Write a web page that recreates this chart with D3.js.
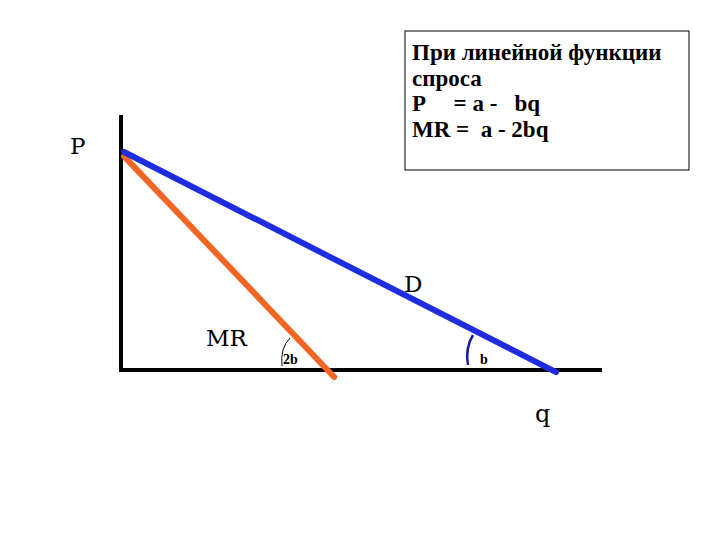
<!DOCTYPE html>
<html><head><meta charset="utf-8">
<script src="https://cdn.jsdelivr.net/npm/d3@7"></script>
<style>body{margin:0;background:#fff}</style>
</head><body>
<script>
// data in (q, P) units
const demandQ = [0.07, 10];
const demandP = [10, -0.1];
const mrQ = [0.07, 4.9];
const mrP = [9.8, -0.32];
const boxLines = ["При линейной функции", "спроса", "P     = a -   bq", "MR =  a - 2bq"];

const width = 720, height = 540;
const x = d3.scaleLinear().domain([0, 10]).range([121, 556]);
const y = d3.scaleLinear().domain([0, 10]).range([370, 152]);

const svg = d3.select("body").append("svg").attr("width", width).attr("height", height);
const line = d3.line().x(d => x(d[0])).y(d => y(d[1]));

// axes
svg.append("line").attr("x1", x(0)).attr("x2", x(0)).attr("y1", 115).attr("y2", y(0) + 2)
  .attr("stroke", "#000").attr("stroke-width", 4);
svg.append("line").attr("x1", x(0)).attr("x2", 602).attr("y1", y(0)).attr("y2", y(0))
  .attr("stroke", "#000").attr("stroke-width", 4);

// MR and D
svg.append("path").attr("d", line(d3.zip(mrQ, mrP))).attr("stroke", "#f26522")
  .attr("stroke-width", 6).attr("stroke-linecap", "round").attr("fill", "none");
svg.append("path").attr("d", line(d3.zip(demandQ, demandP))).attr("stroke", "#1f2de0")
  .attr("stroke-width", 6).attr("stroke-linecap", "round").attr("fill", "none");

// angle arcs
svg.append("path").attr("d", "M290,338 Q280,348 282,366").attr("stroke", "#000")
  .attr("stroke-width", 1).attr("fill", "none");
svg.append("path").attr("d", "M473,335 Q465,348 468,365").attr("stroke", "#1a1aa0")
  .attr("stroke-width", 2.5).attr("fill", "none");

const serif = "'Liberation Serif','DejaVu Serif',serif";
const wide = "'DejaVu Serif',serif";
const lbl = (t, px, py, size, bold, fam) => svg.append("text").attr("x", px).attr("y", py)
  .attr("font-family", fam || serif).attr("font-size", size).attr("font-weight", bold ? "bold" : "normal").text(t);
lbl("P", 70, 154, 23, false, wide);
lbl("D", 404, 292, 23, false, wide);
lbl("MR", 206, 346, 23, false, wide);
lbl("q", 535, 422, 24, false, wide);
lbl("2b", 283, 364, 14, true);
lbl("b", 480, 364, 14, true);

// formula box
svg.append("rect").attr("x", 405).attr("y", 31).attr("width", 284).attr("height", 139)
  .attr("fill", "#fff").attr("stroke", "#000").attr("stroke-width", 1);
svg.selectAll("text.box").data(boxLines).enter().append("text").attr("class", "box")
  .attr("x", 412).attr("y", (d, i) => 60 + i * 25.5)
  .attr("font-family", serif).attr("font-size", 23).attr("font-weight", "bold")
  .attr("xml:space", "preserve").style("white-space", "pre").text(d => d);
</script>
</body></html>
